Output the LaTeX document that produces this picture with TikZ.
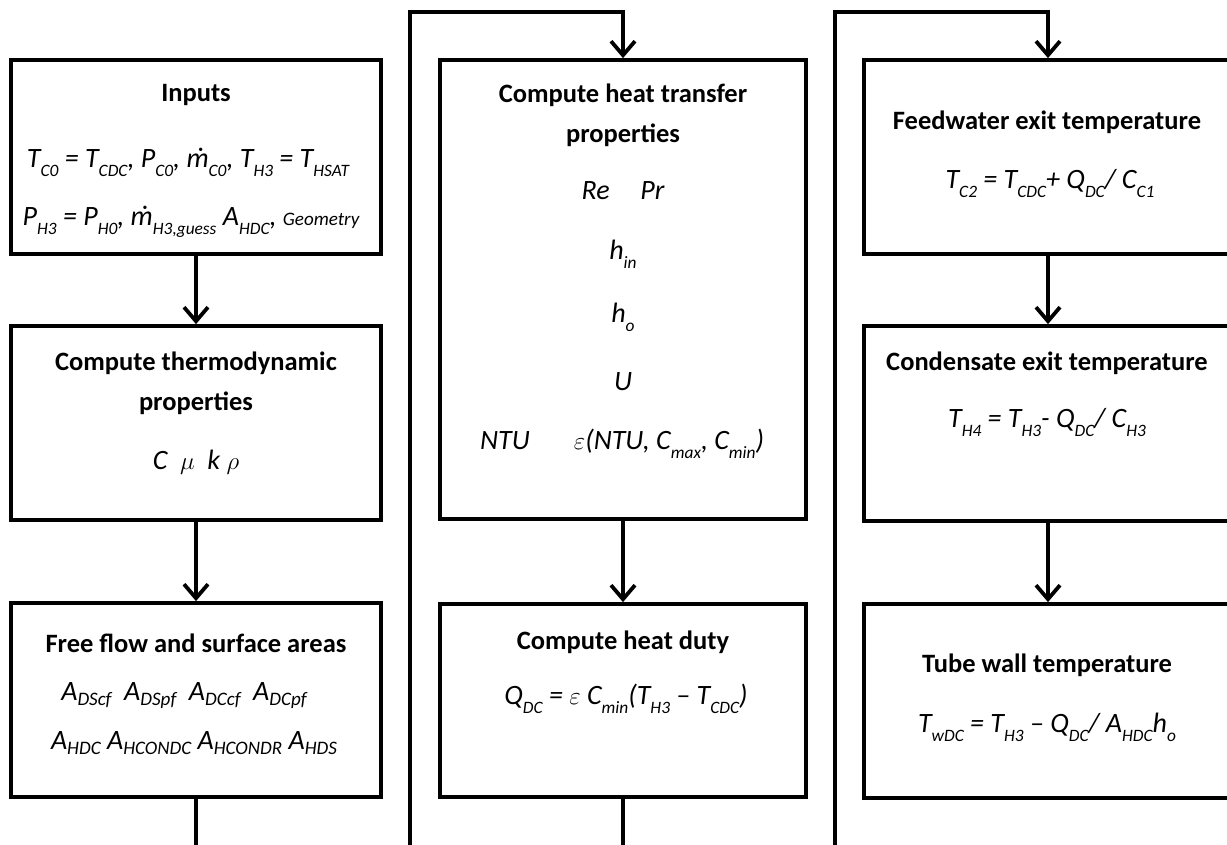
\documentclass[tikz,border=0pt]{standalone}
\usepackage{fontspec}
\setmainfont{Carlito}
\usepackage{graphicx}
\usetikzlibrary{arrows.meta}
% lowered subscripts, as in the equation editor
\newcommand{\dsub}[1]{\raisebox{-0.32em}{\scalebox{0.62}{#1}}}
\newcommand{\fsub}[1]{\raisebox{-0.18em}{\scalebox{0.68}{#1}}}
\newcommand{\mdot}{\ooalign{m\cr\hidewidth\kern0.12em\char"02D9\hidewidth\cr}}

\tikzset{
  box/.style={draw,line width=3.8pt,inner sep=0pt},
  title/.style={font=\bfseries\fontsize{26.5}{40}\selectfont,align=center},
  eqn/.style={font=\itshape\fontsize{28}{32}\selectfont,anchor=mid},
  wire/.style={line width=3.8pt,line join=miter},
  flow/.style={wire,-{Straight Barb[length=14pt,width=24pt,line width=3.8pt]}}
}

\begin{document}
\begin{tikzpicture}[x=1pt,y=-1pt]
  \clip (0,0) rectangle (1227,845);
  \fill[white] (0,0) rectangle (1227,845);

  % first column
  \node[box,minimum width=370pt,minimum height=194pt] (inputs) at (196,157) {};
  \node[box,minimum width=370pt,minimum height=194pt] (thermo) at (196,423) {};
  \node[box,minimum width=370pt,minimum height=194pt] (areas) at (196,700) {};

  \node[title] at (196,95) {Inputs};
  \node[eqn] at (188,165) {T\dsub{C0} = T\dsub{CDC}, P\dsub{C0}, \mdot\dsub{C0}, T\dsub{H3} = T\dsub{HSAT}};
  \node[eqn] at (191,223) {P\dsub{H3} = P\dsub{H0}, \mdot\dsub{H3,guess} A\dsub{HDC}, \scalebox{0.68}{Geometry}};

  \node[title] at (196,383) {Compute thermodynamic\\properties};
  \node[eqn] at (196,467) {C \ $\mu$ \ k $\rho$};

  \node[title] at (196,643) {Free flow and surface areas};
  \node[eqn] at (184,698) {A\fsub{DScf} \ A\fsub{DSpf} \ A\fsub{DCcf} \ A\fsub{DCpf}};
  \node[eqn] at (194,747) {A\fsub{HDC} A\fsub{HCONDC} A\fsub{HCONDR} A\fsub{HDS}};

  % second column
  \node[box,minimum width=366pt,minimum height=459pt] (transfer) at (623,289.5) {};
  \node[box,minimum width=366pt,minimum height=193pt] (duty) at (623,700.5) {};

  \node[title] at (623,115) {Compute heat transfer\\properties};
  \node[eqn] at (623,197) {Re\hspace{1.1em}Pr};
  \node[eqn] at (623,257) {h\dsub{in}};
  \node[eqn] at (623,320) {h\dsub{o}};
  \node[eqn] at (623,388) {U};
  \node[eqn] at (505,447) {NTU};
  \node[eqn] at (669,447) {$\varepsilon$(NTU, C\dsub{max}, C\dsub{min})};

  \node[title] at (623,642) {Compute heat duty};
  \node[eqn] at (626,702) {Q\dsub{DC} = $\varepsilon$ C\dsub{min}(T\dsub{H3} \textendash{} T\dsub{CDC})};

  % third column
  \node[box,minimum width=368pt,minimum height=194pt] (feed) at (1048,157) {};
  \node[box,minimum width=368pt,minimum height=195pt] (cond) at (1048,423.5) {};
  \node[box,minimum width=368pt,minimum height=194pt] (tube) at (1048,701) {};

  \node[title] at (1047,122) {Feedwater exit temperature};
  \node[eqn] at (1050,186) {T\dsub{C2} = T\dsub{CDC}+ Q\dsub{DC}/ C\dsub{C1}};

  \node[title] at (1047,363) {Condensate exit temperature};
  \node[eqn] at (1047,425) {T\dsub{H4} = T\dsub{H3}- Q\dsub{DC}/ C\dsub{H3}};

  \node[title] at (1047,665) {Tube wall temperature};
  \node[eqn] at (1047,730) {T\dsub{wDC} = T\dsub{H3} \textendash{} Q\dsub{DC}/ A\dsub{HDC}h\dsub{o}};

  % connectors
  \coordinate (out1) at (196,845);
  \coordinate (in2) at (410,845);
  \coordinate (top2) at (410,12);
  \coordinate (out2) at (623,845);
  \coordinate (in3) at (835,845);
  \coordinate (top3) at (835,12);

  \draw[flow] (inputs.south) -- (thermo.north);
  \draw[flow] (thermo.south) -- (areas.north);
  \draw[wire] (areas.south) -- (out1);
  \draw[flow] (in2) -- (top2) -| (transfer.north);
  \draw[flow] (transfer.south) -- (duty.north);
  \draw[wire] (duty.south) -- (out2);
  \draw[flow] (in3) -- (top3) -| (feed.north);
  \draw[flow] (feed.south) -- (cond.north);
  \draw[flow] (cond.south) -- (tube.north);
\end{tikzpicture}
\end{document}
